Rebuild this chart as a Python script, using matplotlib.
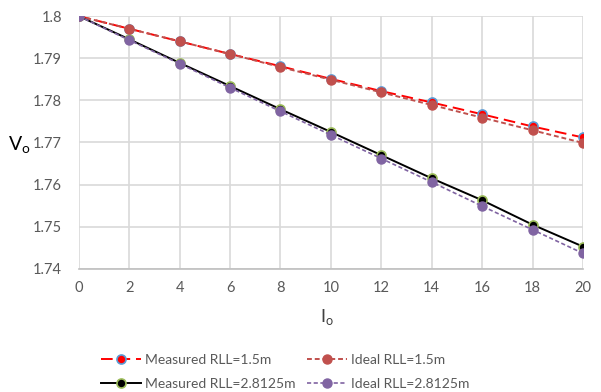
import matplotlib as mpl
import matplotlib.pyplot as plt

# data
current = [0, 2, 4, 6, 8, 10, 12, 14, 16, 18, 20]
measured15 = [1.8, 1.7970, 1.7940, 1.7910, 1.7881, 1.7851, 1.7822, 1.7795, 1.7767, 1.7738, 1.7712]
ideal15 = [1.8, 1.7970, 1.7940, 1.7910, 1.7879, 1.7849, 1.7819, 1.7789, 1.7759, 1.7729, 1.7699]
measured28 = [1.8, 1.7945, 1.7889, 1.7834, 1.7779, 1.7725, 1.7670, 1.7615, 1.7563, 1.7505, 1.7453]
ideal28 = [1.8, 1.7943, 1.7887, 1.7830, 1.7774, 1.7718, 1.7662, 1.7606, 1.7549, 1.7493, 1.7437]
xTicks = list(range(0, 21, 2))
yTicks = [1.74, 1.75, 1.76, 1.77, 1.78, 1.79, 1.8]
yTickLabels = ['1.74', '1.75', '1.76', '1.77', '1.78', '1.79', '1.8']

mpl.rcParams['font.family'] = ['Lato', 'DejaVu Sans']

fig = plt.figure(figsize=(6.01, 3.92), dpi=100)
ax = fig.add_axes([0.131, 0.314, 0.839, 0.645])

ms = 6.5
lM15, = ax.plot(current, measured15, color='#ff0000', ls=(0, (6, 3)), lw=1.4,
                marker='o', ms=ms, mfc='#ff0000', mec='#5b9bd5', mew=1.2,
                label='Measured RLL=1.5m', zorder=3)
lI15, = ax.plot(current, ideal15, color='#c0504d', ls=(0, (2.5, 1.5)), lw=1.4,
                marker='o', ms=ms, mfc='#c0504d', mec='#c0504d',
                label='Ideal RLL=1.5m', zorder=4)
lM28, = ax.plot(current, measured28, color='black', ls='-', lw=1.4,
                marker='o', ms=ms, mfc='black', mec='#9bbb59', mew=1.2,
                label='Measured RLL=2.8125m', zorder=3)
lI28, = ax.plot(current, ideal28, color='#8064a2', ls=(0, (2.5, 1.5)), lw=1.2,
                marker='o', ms=ms, mfc='#8064a2', mec='#8064a2',
                label='Ideal RLL=2.8125m', zorder=4)

ax.set_xlim(0, 20)
ax.set_ylim(1.74, 1.8)
ax.set_xticks(xTicks)
ax.set_yticks(yTicks)
ax.set_yticklabels(yTickLabels)
ax.grid(True, color='#d9d9d9', lw=1.2)
ax.set_axisbelow(True)
for side in ['top', 'right', 'left']:
    ax.spines[side].set_visible(False)
ax.spines['bottom'].set_color('#bfbfbf')
ax.spines['bottom'].set_linewidth(1.2)
ax.tick_params(length=0, labelsize=10.5, colors='#595959')
ax.tick_params(axis='x', pad=9)
ax.tick_params(axis='y', pad=12)

ax.set_xlabel(r'I$_\mathregular{o}$', fontsize=13, color='#404040')
ax.xaxis.set_label_coords(0.492, -0.15)
ax.set_ylabel(r'V$_\mathregular{o}$', fontsize=14, color='black',
              rotation=0, va='center', ha='center')
ax.yaxis.set_label_coords(-0.118, 0.49)

# column-major fill -> order handles so rows read left to right
handles = [lM15, lM28, lI15, lI28]
fig.legend(handles, [h.get_label() for h in handles],
           loc='upper left', bbox_to_anchor=(0.168, 0.098), ncol=2, frameon=False,
           borderpad=0, borderaxespad=0,
           fontsize=10, handlelength=2.9, columnspacing=0.78, handletextpad=0.3,
           labelspacing=0.9, labelcolor='#595959')

fig.savefig('out.png', dpi=100)
